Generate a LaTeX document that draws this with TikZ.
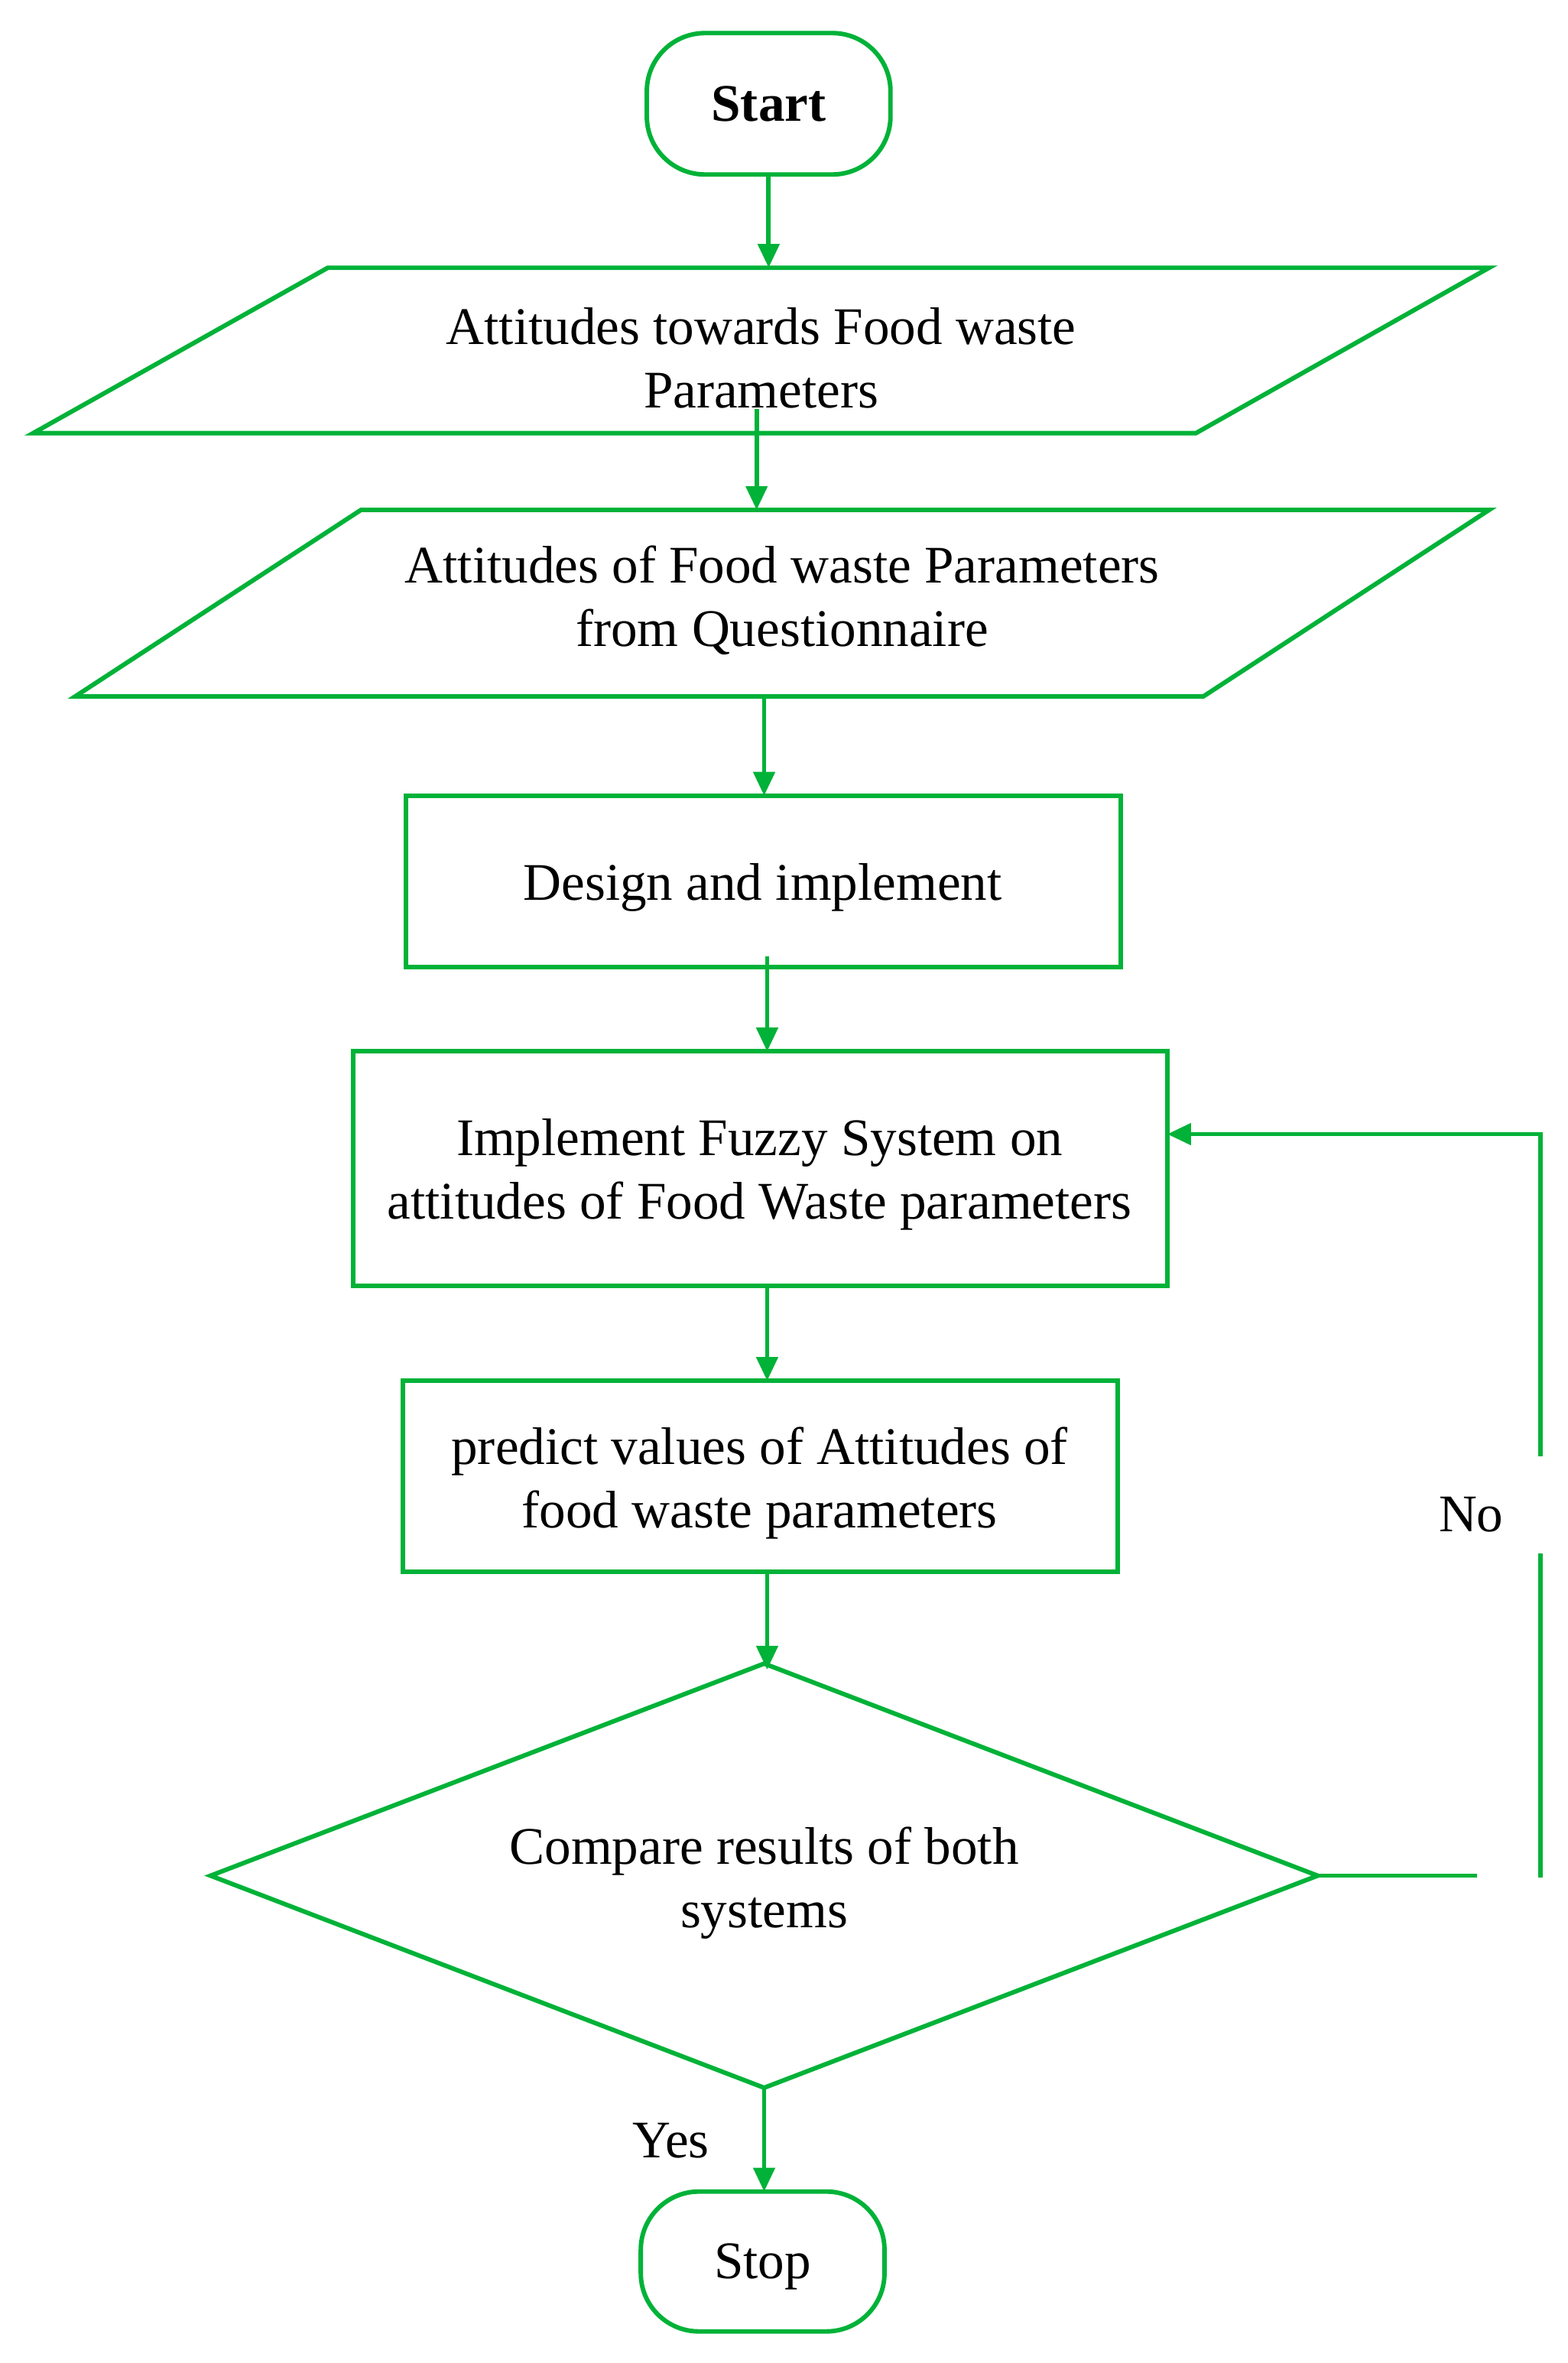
\documentclass[tikz,border=0pt]{standalone}
\usepackage{fontspec}
\setmainfont{Liberation Serif}
\usetikzlibrary{shapes.geometric,arrows.meta}
\definecolor{flowgreen}{RGB}{0,178,56}
\begin{document}
\begin{tikzpicture}[x=0.02cm, y=-0.02cm,
        line/.style = {draw=flowgreen, line width=1.7pt},
        arr/.style = {line, -{Triangle[length=9pt,width=8pt]}},
        txt/.style = {font=\fontsize{20}{24}\selectfont, align=center},
        term/.style = {line, rounded corners=22pt},
        box/.style = {line}]
    \useasboundingbox (0,0) rectangle (1042,1571);

    % terminals and boxes
    \draw[term] (430,22) rectangle (592,116);
    \node[txt, font=\fontsize{20}{24}\selectfont\bfseries] (start) at (511,69) {Start};
    \draw[line] (218,178) -- (990,178) -- (795,288) -- (22,288) -- cycle;
    \node[txt] (in1) at (506,238) {Attitudes towards Food waste\\Parameters};
    \draw[line] (240,339) -- (990,339) -- (800,463) -- (50,463) -- cycle;
    \node[txt] (in2) at (520,399) {Attitudes of Food waste Parameters\\from Questionnaire};
    \draw[box] (270,529) rectangle (745,643);
    \node[txt] (design) at (507,590) {Design and implement};
    \draw[box] (235,699) rectangle (776,855);
    \node[txt] (fuzzy) at (505,781) {Implement Fuzzy System on\\attitudes of Food Waste parameters};
    \draw[box] (268,918) rectangle (743,1045);
    \node[txt] (predict) at (505,986) {predict values of Attitudes of\\food waste parameters};
    \draw[line] (508,1106) -- (876,1247) -- (508,1388) -- (140,1247) -- cycle;
    \node[txt] (compare) at (508,1252) {Compare results of both\\systems};
    \draw[term] (426,1457) rectangle (588,1550);
    \node[txt] (stop) at (507,1507) {Stop};

    % anchor points
    \coordinate (s1) at (511,116);  \coordinate (e1) at (511,178);
    \coordinate (s2) at (503,272);  \coordinate (e2) at (503,339);
    \coordinate (s3) at (508,463);  \coordinate (e3) at (508,529);
    \coordinate (s4) at (510,636);  \coordinate (e4) at (510,699);
    \coordinate (s5) at (510,855);  \coordinate (e5) at (510,918);
    \coordinate (s6) at (510,1045); \coordinate (e6) at (510,1110);
    \coordinate (s7) at (508,1388); \coordinate (e7) at (508,1457);
    \coordinate (dr) at (876,1247); \coordinate (dx) at (982,1247);
    \coordinate (l1) at (1024,1248); \coordinate (l2) at (1024,1033);
    \coordinate (l3) at (1024,968);  \coordinate (l4) at (1024,754);
    \coordinate (fr) at (776,754);

    % connectors
    \foreach \n in {1,...,7}{
        \draw[arr] (s\n) -- (e\n);
    }
    \draw[line] (dr) -- (dx);
    \draw[line] (l1) -- (l2);
    \draw[arr] (l3) -- (l4) -- (fr);
    \node[txt] (no) at (978,1007) {No};
    \node[txt] (yes) at (446,1423) {Yes};
\end{tikzpicture}
\end{document}
